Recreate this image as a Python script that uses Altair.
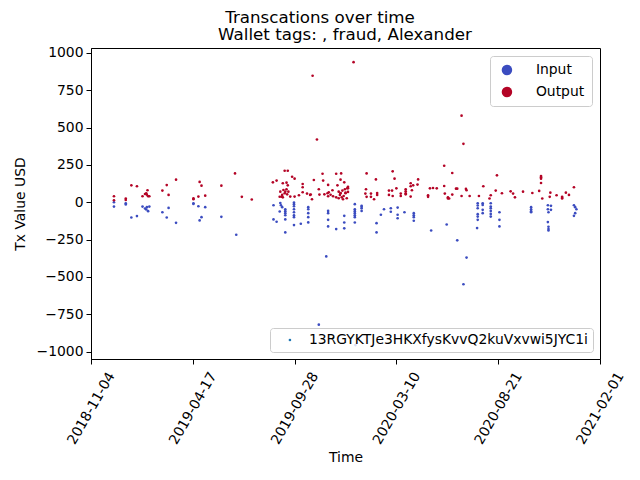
import altair as alt
import pandas as pd

start = pd.Timestamp('2018-11-04')
wallet = '13RGYKTJe3HKXfysKvvQ2kuVxvwi5JYC1i'
suptitle = 'Transcations over time'
subtitle = 'Wallet tags: , fraud, Alexander'

# days since 2018-11-04 and USD value
out_days = [37, 37, 56, 56, 65, 74, 83, 87, 89, 91, 92, 94, 90, 115, 122, 125, 137, 165, 165, 173,
            175, 178, 184, 210, 232, 243, 259,
            293, 299, 312, 317, 309, 315, 324, 328, 317, 305, 308, 310, 313, 312, 315, 309, 307, 316,
            318, 304, 321, 328, 335, 341, 341, 341, 348, 353, 354, 356, 359, 357, 364, 367, 368, 373,
            374, 376, 381, 383, 382, 386, 389, 390, 382, 395, 403, 397, 402, 408, 399, 402, 401, 405,
            407, 410, 404, 399, 395, 413, 414, 412, 406, 414, 402, 410, 414, 409,
            423, 444, 443, 442, 444, 451, 451, 456, 459, 461, 461, 480, 485, 480, 486, 486, 489, 492,
            499, 499, 507, 507, 507, 507, 515, 515, 519, 517, 515, 527, 526, 546, 551, 557, 543, 543,
            569, 569, 570, 575, 575, 577,
            582, 582, 588, 590, 597, 597, 600, 604, 605, 610, 625, 632, 644, 642, 652, 654, 662, 676,
            680, 683, 696, 711, 722, 725, 725, 725, 725, 727, 740, 739, 750, 759, 759, 759, 765, 770,
            778]
out_usd = [40, 13, 25, 15, 113, 107, 40, 55, 60, 80, 40, 40, 50, 78, 115, 49, 151, 27, 20, 38,
           136, 111, 44, 111, 193, 36, 18,
           133, 145, 211, 211, 127, 131, 171, 158, 113, 71, 49, 82, 71, 60, 87, 33, 37, 53,
           71, 37, 38, 38, 47, 122, 100, 67, 58, 49, 52, 20, 149, 847, 420, 87, 51, 191,
           145, 53, 60, 67, 40, 50, 80, 40, 116, 191, 193, 113, 151, 133, 71, 60, 49, 78,
           42, 60, 33, 27, 33, 94, 69, 27, 20, 104, 62, 64, 94, 87,
           938, 193, 87, 58, 36, 58, 36, 20, 153, 62, 49, 78, 78, 49, 42, 207, 158, 93,
           58, 42, 87, 73, 60, 53, 127, 107, 113, 80, 38, 153, 118, 93, 95, 93, 47, 36,
           244, 109, 58, 33, 25, 25,
           196, 51, 91, 91, 42, 580, 391, 89, 80, 42, 42, 107, 47, 25, 78, 180, 60, 73,
           58, 33, 71, 62, 76, 158, 176, 168, 129, 25, 64, 36, 47, 36, 25, 30, 64, 49,
           100]

in_days = [37, 37, 56, 56, 65, 74, 83, 87, 90, 94, 89, 92, 115, 122, 125, 137, 165, 165, 173, 178,
           175, 184, 210, 234,
           294, 294, 299, 305, 306, 308, 304, 313, 313, 313, 313, 313, 313, 327, 327, 327, 327, 327,
           327, 327, 327, 338, 350, 350, 350, 350, 350, 367, 379, 382, 382, 382, 382, 395, 408, 408,
           408,
           425, 425, 425, 425, 425, 425, 425, 426, 436, 436, 436, 436, 460, 460, 467, 472, 483, 483,
           494, 494, 494, 505, 520, 520, 520, 520, 548, 573,
           590, 600, 605, 623, 623, 623, 623, 623, 623, 622, 631, 631, 631, 631, 644, 644, 644, 644,
           644, 644, 658, 658, 658, 709, 709, 709, 709, 736, 741, 736, 741, 737, 736, 737, 737, 737,
           778, 780, 782, 780, 778]
in_usd = [0, -29, -7, -15, -102, -93, -29, -42, -33, -29, -49, -60, -67, -102, -38, -138, -7, -12, -27, -100,
          -122, -33, -98, -218,
          -20, -115, -131, -5, -20, -33, -62, -47, -60, -73, -87, -115, -202, -2, -13, -27, -47, -67,
          -87, -100, -153, -144, -33, -47, -73, -100, -135, -820, -363, -58, -73, -118, -162, -180, -91, -136,
          -175,
          -13, -47, -60, -73, -87, -100, -136, -957, -24, -40, -58, -30, -140, -202, -84, -47, -40, -64,
          -36, -84, -107, -67, -73, -87, -100, -124, -189, -149,
          -255, -549, -371, -7, -22, -40, -80, -96, -118, -173, -7, -18, -51, -73, -7, -29, -40, -58,
          -78, -96, -67, -118, -162, -33, -47, -60, -67, -20, -24, -47, -51, -67, -133, -164, -180, -189,
          -20, -33, -47, -73, -91]

df = pd.concat([
    pd.DataFrame({'days': in_days, 'usd': in_usd, 'kind': 'Input'}),
    pd.DataFrame({'days': out_days, 'usd': out_usd, 'kind': 'Output'}),
], ignore_index=True)
df['time'] = start + pd.to_timedelta(df['days'], unit='D')
df['wallet'] = wallet

tick_dates = [alt.DateTime(year=2018, month=11, date=4),
              alt.DateTime(year=2019, month=4, date=17),
              alt.DateTime(year=2019, month=9, date=28),
              alt.DateTime(year=2020, month=3, date=10),
              alt.DateTime(year=2020, month=8, date=21),
              alt.DateTime(year=2021, month=2, date=1)]

legend_box = dict(strokeColor='#cccccc', fillColor='rgba(255,255,255,0.8)', cornerRadius=3,
                  labelFontSize=13.9, labelFont='DejaVu Sans', labelColor='black')

points = alt.Chart(df).mark_point(filled=True, size=7, opacity=1).encode(
    x=alt.X('time:T', title='Time',
            scale=alt.Scale(domain=[tick_dates[0], tick_dates[-1]]),
            axis=alt.Axis(values=tick_dates, format='%Y-%m-%d', labelAngle=-60,
                          labelAlign='center', labelBaseline='middle', labelPadding=44,
                          labelFlush=False, labelOverlap=False, grid=False,
                          titleY=98, titleBaseline='middle')),
    y=alt.Y('usd:Q', title='Tx Value USD',
            scale=alt.Scale(domain=[-1050, 1033], nice=False, zero=False),
            axis=alt.Axis(values=list(range(-1000, 1001, 250)), format='d', grid=False,
                          labelPadding=3, titleX=-71, titleBaseline='middle')),
    color=alt.Color('kind:N',
                    scale=alt.Scale(domain=['Input', 'Output'], range=['#3b4cc0', '#b40426']),
                    legend=alt.Legend(title=None, orient='top-right', offset=8, symbolType='circle',
                                      symbolSize=110, symbolStrokeWidth=0, padding=7, rowPadding=7,
                                      symbolOffset=3, labelOffset=22, **legend_box)),
    shape=alt.Shape('wallet:N', scale=alt.Scale(range=['circle']),
                    legend=alt.Legend(title=None, orient='bottom-right', offset=7, symbolSize=7,
                                      symbolFillColor='#1f77b4', symbolStrokeColor='#1f77b4',
                                      symbolStrokeWidth=0, padding=5, symbolOffset=8,
                                      labelOffset=12, labelLimit=400, **legend_box)),
)

sup = alt.Chart(pd.DataFrame({'t': [suptitle]})).mark_text(
    fontSize=16.7, font='DejaVu Sans', color='black', baseline='middle'
).encode(x=alt.value(229), y=alt.value(-30), text='t:N')

sub = alt.Chart(pd.DataFrame({'t': [subtitle]})).mark_text(
    fontSize=16.7, font='DejaVu Sans', color='black', baseline='middle'
).encode(x=alt.value(254), y=alt.value(-13), text='t:N')

chart = alt.layer(points, sup, sub).properties(
    width=509, height=311,
    autosize=alt.AutoSizeParams(type='none'),
    padding={'left': 83, 'top': 40, 'right': 30, 'bottom': 120},
).configure(
    font='DejaVu Sans',
).configure_view(
    stroke='black', strokeWidth=1,
).configure_axis(
    labelFontSize=13.9, titleFontSize=13.9, labelColor='black', titleColor='black',
    titleFontWeight='normal', tickColor='black', domainColor='black', tickSize=5,
    labelFont='DejaVu Sans', titleFont='DejaVu Sans',
)

chart.save('out.html', embed_options={'renderer': 'svg', 'actions': False})
